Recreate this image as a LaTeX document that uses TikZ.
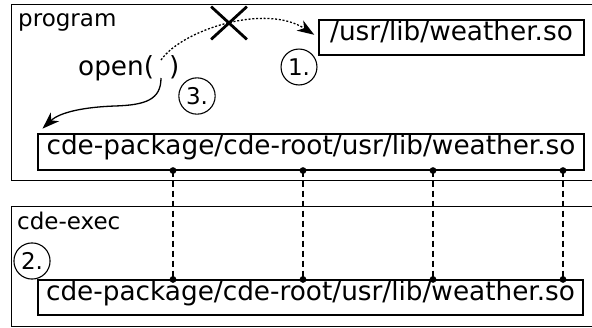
\documentclass[tikz,border=0pt]{standalone}
\usepackage{fontspec}
\setmainfont{DejaVu Sans}
\usetikzlibrary{arrows.meta,shapes.misc}
\begin{document}
\begin{tikzpicture}[x=1pt,y=-1pt,
  panel/.style={draw, line width=1.1pt, anchor=north west, inner sep=0pt},
  pathbox/.style={draw, line width=1.1pt, inner sep=0pt,
    font=\fontsize{26.3}{30}\selectfont, text height=0.76em, text depth=0.22em},
  tag/.style={inner sep=0pt, anchor=base west, font=\fontsize{23}{27}\selectfont},
  bigtag/.style={inner sep=0pt, anchor=base west, font=\fontsize{26.3}{30}\selectfont},
  stepnum/.style={draw, circle, line width=1.1pt, inner sep=3pt,
    font=\fontsize{23}{27}\selectfont},
  tip/.style={-{Stealth[length=17pt,width=12pt,inset=5pt]}},
  call/.style={line width=1.3pt, tip},
  blocked/.style={call, dash pattern=on 2pt off 1.8pt},
  link/.style={line width=1.2pt, dash pattern=on 6pt off 4pt},
  dotr/.style={fill=black}
]
\useasboundingbox (0,0) rectangle (592,327);

% the two process panels
\node[panel, minimum width=583pt, minimum height=176pt] (prog) at (11,4) {};
\node[panel, minimum width=583pt, minimum height=120pt] (exec) at (11,206) {};
\node[tag] (progname) at (18,26) {program};
\node[tag] (execname) at (17,229) {cde-exec};

% file paths
\node[pathbox, minimum width=265pt, minimum height=35pt] (usr) at (451.5,37.5) {/usr/lib/weather.so};
\node[pathbox, minimum width=546pt, minimum height=36pt] (top) at (311,152) {cde-package/cde-root/usr/lib/weather.so};
\node[pathbox, minimum width=545pt, minimum height=35pt] (bot) at (310.5,297.5) {cde-package/cde-root/usr/lib/weather.so};

% the system call
\node[bigtag] (open) at (78,75) {open(\hspace{15pt})};
\coordinate (argtop) at (161,60);
\coordinate (argbot) at (161,78);

% step markers
\node[stepnum] (s1) at (299,67) {1.};
\node[stepnum] (s2) at (32,261) {2.};
\node[stepnum] (s3) at (197,96) {3.};

% original request, intercepted
\draw[blocked, shorten >=5pt] (argtop) .. controls (182,30) and (265,3) .. (usr.west);
\node[cross out, draw, line width=2.8pt, minimum width=33pt, minimum height=30pt, inner sep=0pt] (block) at (229,23) {};

% rewritten request
\draw[call, shorten >=7pt] (argbot) .. controls (161,100) and (145,105) .. (115,106)
  .. controls (85,107) and (60,112) .. (top.north west);

% shared path mapping between the panels
\foreach \x [count=\i] in {173,303,433,563} {
  \coordinate (u\i) at (top.south -| \x,0);
  \coordinate (d\i) at (bot.north -| \x,0);
  \draw[link] (u\i) -- (d\i);
  \fill[dotr] (u\i) circle (3.4pt);
  \fill[dotr] (d\i) circle (3.4pt);
}
\end{tikzpicture}
\end{document}
